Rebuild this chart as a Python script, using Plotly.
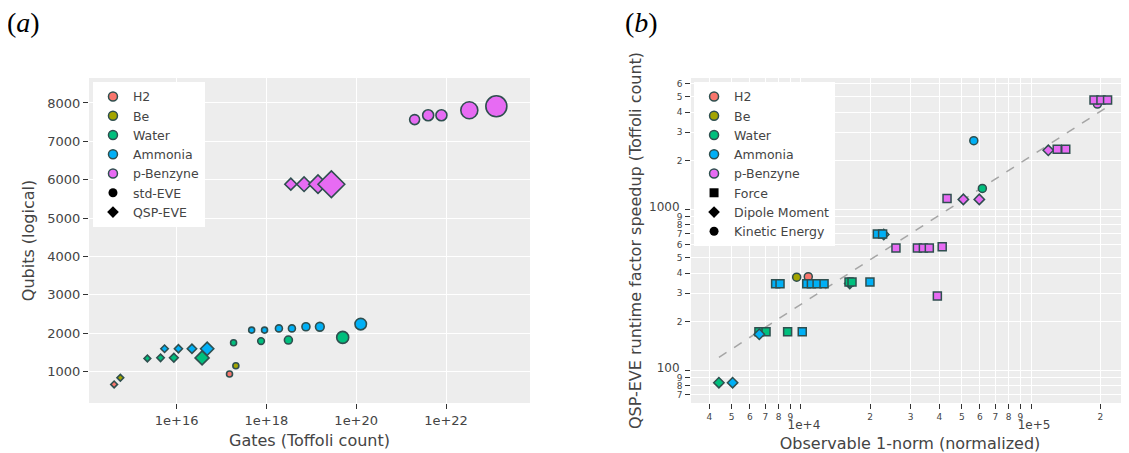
import plotly.graph_objects as go

# ---------------- data ----------------
molecules = ["H2", "Be", "Water", "Ammonia", "p-Benzyne"]
colors = ["#F8766D", "#A3A500", "#00BF7D", "#00B0F6", "#E76BF3"]

# Panel (a): Toffoli gate count vs logical qubits
a_h2_gates = [1.51e17, 4.07e14]
a_h2_qubits = [934, 665]
a_h2_method = ["std-EVE", "QSP-EVE"]

a_be_gates = [2.09e17, 5.6e14]
a_be_qubits = [1151, 838]
a_be_method = ["std-EVE", "QSP-EVE"]

a_water_gates = [1.86e17, 7.6e17, 3.09e18, 5.0e19, 2.24e15, 4.4e15, 8.7e15, 3.7e16]
a_water_qubits = [1750, 1794, 1820, 1889, 1342, 1358, 1358, 1355]
a_water_method = ["std-EVE"] * 4 + ["QSP-EVE"] * 4

a_ammonia_gates = [4.7e17, 9.1e17, 1.9e18, 3.7e18, 7.6e18, 1.55e19, 1.26e20,
                   5.4e15, 1.1e16, 2.2e16, 4.8e16]
a_ammonia_qubits = [2080, 2080, 2124, 2124, 2167, 2167, 2236,
                    1594, 1594, 1594, 1594]
a_ammonia_method = ["std-EVE"] * 7 + ["QSP-EVE"] * 4

a_benzyne_gates = [2.0e21, 4.0e21, 7.9e21, 3.3e22, 1.32e23,
                   3.5e18, 6.9e18, 1.41e19, 2.8e19]
a_benzyne_qubits = [7566, 7679, 7679, 7809, 7913,
                    5882, 5882, 5882, 5882]
a_benzyne_method = ["std-EVE"] * 5 + ["QSP-EVE"] * 4

# marker sizes (visual encoding in panel a)
a_h2_size = [6, 5.2]
a_be_size = [6, 5.2]
a_water_size = [6, 6.7, 8, 12, 5.2, 5.7, 6.7, 10.8]
a_ammonia_size = [6, 6, 7, 7, 8, 8.7, 11.5, 5.7, 6.2, 7.2, 10.2]
a_benzyne_size = [10, 11, 11, 17, 21, 9.2, 11.2, 14.2, 20.6]

# Panel (b): observable 1-norm vs QSP-EVE speedup
b_h2_norm = [10760]
b_h2_speedup = [380]
b_h2_obs = ["Kinetic Energy"]

b_be_norm = [9580]
b_be_speedup = [377]
b_be_obs = ["Kinetic Energy"]

b_water_norm = [61450, 4398, 16300, 6565, 7050, 8750, 16180, 16670]
b_water_speedup = [1343, 83.4, 345, 173, 173, 173, 352, 352]
b_water_obs = ["Kinetic Energy", "Dipole Moment", "Dipole Moment",
               "Force", "Force", "Force", "Force", "Force"]

b_ammonia_norm = [56400, 5045, 6590, 22900, 7760, 8110, 10130, 10600, 11100,
                  11750, 12600, 19950, 21480, 22640]
b_ammonia_speedup = [2660, 83.4, 166.7, 695, 344, 344, 173, 344, 344,
                     344, 344, 352, 700, 700]
b_ammonia_obs = ["Kinetic Energy", "Dipole Moment", "Dipole Moment", "Dipole Moment",
                 "Force", "Force", "Force", "Force", "Force",
                 "Force", "Force", "Force", "Force", "Force"]

b_benzyne_norm = [194400, 50800, 59600, 118900, 25880, 32070, 34050, 36140,
                  41110, 39170, 43150, 130000, 141600, 187900, 201400, 215200]
b_benzyne_speedup = [4490, 1148, 1148, 2316, 573, 573, 573, 573,
                     583, 288, 1164, 2350, 2350, 4750, 4750, 4750]
b_benzyne_obs = ["Kinetic Energy", "Dipole Moment", "Dipole Moment", "Dipole Moment"] + ["Force"] * 12

trend_norm = [4400, 215000]
trend_speedup = [120, 4320]

# ---------------- figure ----------------
FONT = "DejaVu Sans"
EDGE = "DarkSlateGrey"
sym_a = {"std-EVE": "circle", "QSP-EVE": "diamond"}
sym_b = {"Force": "square", "Dipole Moment": "diamond", "Kinetic Energy": "circle"}

fig = go.Figure()

panel_a = [
    (a_h2_gates, a_h2_qubits, a_h2_method, a_h2_size),
    (a_be_gates, a_be_qubits, a_be_method, a_be_size),
    (a_water_gates, a_water_qubits, a_water_method, a_water_size),
    (a_ammonia_gates, a_ammonia_qubits, a_ammonia_method, a_ammonia_size),
    (a_benzyne_gates, a_benzyne_qubits, a_benzyne_method, a_benzyne_size),
]
for (gx, qy, meth, sz), col in zip(panel_a, colors):
    fig.add_trace(go.Scatter(
        x=gx, y=qy, mode="markers", xaxis="x", yaxis="y", showlegend=False,
        marker=dict(color=col, size=sz, opacity=1, symbol=[sym_a[m] for m in meth],
                    line=dict(color=EDGE, width=1.6))))

fig.add_trace(go.Scatter(
    x=trend_norm, y=trend_speedup, mode="lines", xaxis="x2", yaxis="y2",
    showlegend=False, line=dict(color="rgb(165,165,165)", width=1.5, dash="dash")))

panel_b = [
    (b_h2_norm, b_h2_speedup, b_h2_obs),
    (b_be_norm, b_be_speedup, b_be_obs),
    (b_water_norm, b_water_speedup, b_water_obs),
    (b_ammonia_norm, b_ammonia_speedup, b_ammonia_obs),
    (b_benzyne_norm, b_benzyne_speedup, b_benzyne_obs),
]
for (nx, sy, obs), col in zip(panel_b, colors):
    fig.add_trace(go.Scatter(
        x=nx, y=sy, mode="markers", xaxis="x2", yaxis="y2", showlegend=False,
        marker=dict(color=col, size=8, opacity=1, symbol=[sym_b[o] for o in obs],
                    line=dict(color=EDGE, width=1.5))))

# legend entries
for leg, xa, ya in (("legend", "x", "y"), ("legend2", "x2", "y2")):
    for mol, col in zip(molecules, colors):
        fig.add_trace(go.Scatter(
            x=[None], y=[None], mode="markers", name=mol, legend=leg,
            xaxis=xa, yaxis=ya,
            marker=dict(color=col, size=9, symbol="circle",
                        line=dict(color=EDGE, width=1.5))))
for name, sym in (("std-EVE", "circle"), ("QSP-EVE", "diamond")):
    fig.add_trace(go.Scatter(
        x=[None], y=[None], mode="markers", name=name, legend="legend",
        xaxis="x", yaxis="y",
        marker=dict(color="black", size=9, symbol=sym)))
for name, sym in (("Force", "square"), ("Dipole Moment", "diamond"),
                  ("Kinetic Energy", "circle")):
    fig.add_trace(go.Scatter(
        x=[None], y=[None], mode="markers", name=name, legend="legend2",
        xaxis="x2", yaxis="y2",
        marker=dict(color="black", size=9, symbol=sym)))

axis_common = dict(showgrid=True, gridcolor="white", zeroline=False,
                   ticks="outside", tickcolor="rgb(51,51,51)", ticklen=5,
                   automargin=False, showline=False)

fig.update_layout(
    template="ggplot2",
    width=1121, height=445,
    margin=dict(l=0, r=0, t=70, b=50),
    paper_bgcolor="white",
    plot_bgcolor="rgb(237,237,237)",
    font=dict(family=FONT, size=13, color="rgb(68,68,68)"),
    xaxis=dict(axis_common, type="log", domain=[0.07226, 0.46566],
               range=[14.05, 23.87], dtick=2, exponentformat="e", anchor="y",
               tickfont=dict(size=13),
               title=dict(text="Gates (Toffoli count)", font=dict(size=16), standoff=8)),
    yaxis=dict(axis_common, domain=[0, 1], range=[180, 8650], dtick=1000, anchor="x",
               tickfont=dict(size=13),
               title=dict(text="Qubits (logical)", font=dict(size=16), standoff=8)),
    xaxis2=dict(axis_common, type="log", domain=[0.60928, 1.0],
                range=[3.522, 5.426], dtick="D1", exponentformat="e", anchor="y2",
                tickfont=dict(size=12),
                title=dict(text="Observable 1-norm (normalized)", font=dict(size=16), standoff=8)),
    yaxis2=dict(axis_common, type="log", domain=[0, 1],
                range=[1.795, 3.814], dtick="D1", exponentformat="none", anchor="x2",
                tickfont=dict(size=12),
                title=dict(text="QSP-EVE runtime factor speedup (Toffoli count)",
                           font=dict(size=16), standoff=3)),
    legend=dict(x=0.0758, y=0.988, xanchor="left", yanchor="top",
                bgcolor="white", font=dict(size=12.5, family=FONT)),
    legend2=dict(x=0.612, y=0.988, xanchor="left", yanchor="top",
                 bgcolor="white", font=dict(size=12.5, family=FONT)),
    annotations=[
        dict(text="(<i>a</i>)", x=0.0134, y=1.172, xref="paper", yref="paper",
             xanchor="center", yanchor="middle", showarrow=False,
             font=dict(family="Liberation Serif", size=28, color="black")),
        dict(text="(<i>b</i>)", x=0.5647, y=1.172, xref="paper", yref="paper",
             xanchor="center", yanchor="middle", showarrow=False,
             font=dict(family="Liberation Serif", size=28, color="black")),
    ],
)

fig.write_html("out.html")
